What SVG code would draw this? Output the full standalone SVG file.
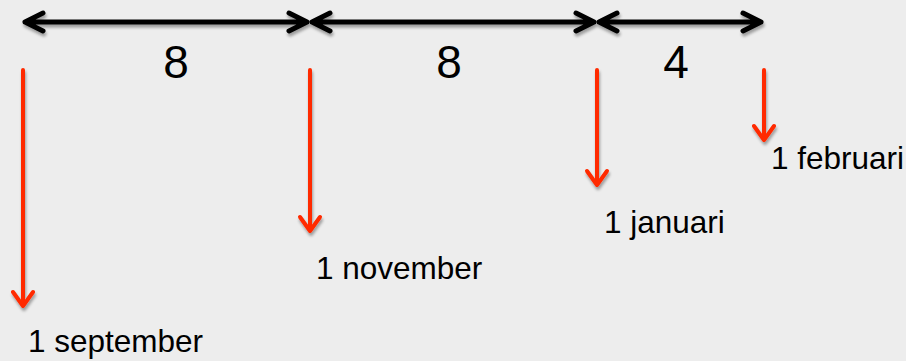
<svg xmlns="http://www.w3.org/2000/svg" width="906" height="361" viewBox="0 0 906 361">
<defs>
<filter id="sh" x="-20%" y="-20%" width="140%" height="140%">
<feGaussianBlur in="SourceAlpha" stdDeviation="1.5"/>
<feOffset dx="1" dy="3" result="b"/>
<feComponentTransfer><feFuncA type="linear" slope="0.35"/></feComponentTransfer>
<feMerge><feMergeNode/><feMergeNode in="SourceGraphic"/></feMerge>
</filter>
<style>
.blk{stroke:#000;stroke-width:5;fill:none;stroke-linecap:round;stroke-linejoin:round}
.red{stroke:#FF2A00;stroke-width:4;fill:none;stroke-linecap:round;stroke-linejoin:round}
.num{font-family:"Liberation Sans",Arial,sans-serif;font-size:46px;fill:#000;text-anchor:middle}
.lbl{font-family:"Liberation Sans",Arial,sans-serif;font-size:31.5px;fill:#000}
</style>
</defs>
<rect width="906" height="361" fill="#EDEDED"/>
<g id="connectors" filter="url(#sh)">
<g id="span1">
<path class="blk" d="M25 22 H307 M43 13 L25 22 L43 31 M289 13 L307 22 L289 31"/>
</g>
<g id="span2">
<path class="blk" d="M312 22 H594 M330 13 L312 22 L330 31 M576 13 L594 22 L576 31"/>
</g>
<g id="span3">
<path class="blk" d="M599 22 H761 M617 13 L599 22 L617 31 M743 13 L761 22 L743 31"/>
</g>
<path class="red" d="M23 70 V306 M13 292 L23 306 L33 292"/>
<path class="red" d="M310 70 V231 M300 217 L310 231 L320 217"/>
<path class="red" d="M597 70 V185 M587 171 L597 185 L607 171"/>
<path class="red" d="M764 70 V140 M754 126 L764 140 L774 126"/>
</g>
<g id="n-8a"><text class="num" x="176" y="78">8</text></g>
<g id="n-8b"><text class="num" x="449" y="78">8</text></g>
<g id="n-4"><text class="num" x="676" y="78">4</text></g>
<g id="sep"><text class="lbl" x="28" y="352">1 september</text></g>
<g id="nov"><text class="lbl" x="316" y="279">1 november</text></g>
<g id="jan"><text class="lbl" x="604" y="233">1 januari</text></g>
<g id="feb"><text class="lbl" x="771" y="169">1 februari</text></g>
</svg>
